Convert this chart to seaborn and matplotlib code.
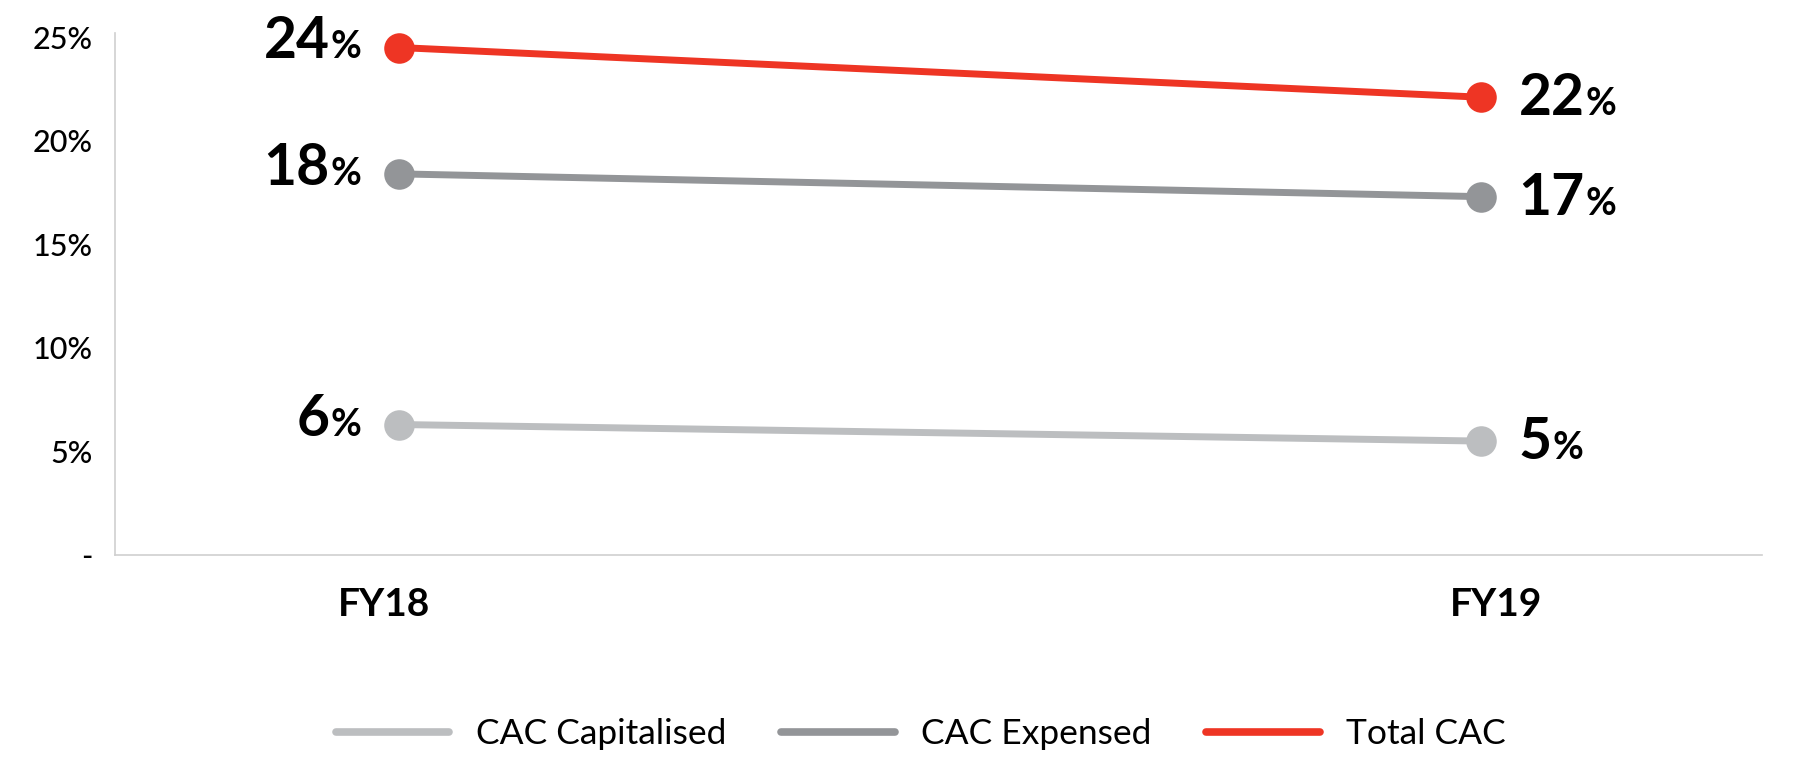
import matplotlib
matplotlib.use("Agg")
import matplotlib.pyplot as plt
from matplotlib.lines import Line2D
from matplotlib.transforms import ScaledTranslation
import seaborn as sns
import pandas as pd

# ---- data ----
periods = ["FY18", "FY19"]
series_names = ["CAC Capitalised", "CAC Expensed", "Total CAC"]
cac_capitalised = [6.3, 5.5]
cac_expensed = [18.4, 17.3]
total_cac = [24.5, 22.1]
label_digits = {"CAC Capitalised": ["6", "5"],
                "CAC Expensed": ["18", "17"],
                "Total CAC": ["24", "22"]}
y_ticks = [0, 5, 10, 15, 20, 25]
y_tick_labels = ["-", "5%", "10%", "15%", "20%", "25%"]

colors = {"CAC Capitalised": "#BCBEC0",
          "CAC Expensed": "#939598",
          "Total CAC": "#EE3524"}

df = pd.DataFrame({
    "period": periods * 3,
    "series": [s for s in series_names for _ in periods],
    "value": cac_capitalised + cac_expensed + total_cac,
})

sns.set_style("white")
plt.rcParams["font.family"] = ["Lato", "DejaVu Sans"]
plt.rcParams["text.color"] = "black"
plt.rcParams["xtick.color"] = "black"
plt.rcParams["ytick.color"] = "black"
plt.rcParams["axes.labelcolor"] = "black"

DPI = 100
fig = plt.figure(figsize=(18.06, 7.6), dpi=DPI)
ax = fig.add_axes([115 / 1806, 1 - 555 / 760, (1762 - 115) / 1806, (555 - 33) / 760])

sns.lineplot(data=df, x="period", y="value", hue="series", hue_order=series_names,
             palette=colors, marker="o", markersize=22, markeredgewidth=0,
             linewidth=5, legend=False, ax=ax, sort=False)

ax.set_xlim(-0.262, 1.26)
ax.set_ylim(0, 25.2)
ax.set_yticks(y_ticks)
ax.set_yticklabels(y_tick_labels, fontsize=22, fontweight="medium")
ax.set_xticks([0, 1])
ax.set_xticklabels(periods, fontsize=28, fontweight="bold")
ax.tick_params(axis="y", length=0, pad=16, colors="black")
ax.tick_params(axis="x", length=0, pad=23, colors="black")
# slight horizontal shift of the category labels, as in the reference
for lab, dx in zip(ax.get_xticklabels(), [-15, 15]):
    lab.set_transform(lab.get_transform() + ScaledTranslation(dx / DPI, 0, fig.dpi_scale_trans))
ax.set_xlabel("")
ax.set_ylabel("")
for side in ["top", "right"]:
    ax.spines[side].set_visible(False)
for side in ["left", "bottom"]:
    ax.spines[side].set_color("#CFCFCF")
    ax.spines[side].set_linewidth(1.2)
ax.grid(False)

# ---- data labels ----
fig.canvas.draw()
renderer = fig.canvas.get_renderer()
px2pt = 72 / DPI
values = {"CAC Capitalised": cac_capitalised, "CAC Expensed": cac_expensed, "Total CAC": total_cac}
for s in series_names:
    for i, p in enumerate(periods):
        v = values[s][i]
        d = label_digits[s][i]
        if i == 0:
            dy = -11 * px2pt
            pct = ax.annotate("%", xy=(i, v), xytext=(-37 * px2pt, dy), textcoords="offset points",
                              ha="right", va="baseline", fontsize=27, fontweight="bold", color="black")
            w = pct.get_window_extent(renderer).width
            ax.annotate(d, xy=(i, v), xytext=((-37 - w - 1) * px2pt, dy), textcoords="offset points",
                        ha="right", va="baseline", fontsize=41, fontweight="bold", color="black")
        else:
            dy = -18 * px2pt
            dig = ax.annotate(d, xy=(i, v), xytext=(38 * px2pt, dy), textcoords="offset points",
                              ha="left", va="baseline", fontsize=41, fontweight="bold", color="black")
            w = dig.get_window_extent(renderer).width
            ax.annotate("%", xy=(i, v), xytext=((38 + w + 1) * px2pt, dy), textcoords="offset points",
                        ha="left", va="baseline", fontsize=27, fontweight="bold", color="black")

# ---- legend ----
handles = [Line2D([0], [0], color=colors[s], lw=5.5) for s in series_names]
fig.legend(handles, series_names, loc="center", bbox_to_anchor=(0.510, 0.034),
           ncol=3, frameon=False, handlelength=3.2, handletextpad=0.75,
           columnspacing=1.55, labelcolor="black",
           prop={"family": ["Lato", "DejaVu Sans"], "weight": "normal", "size": 25.5})

fig.savefig("out.png", dpi=DPI)
